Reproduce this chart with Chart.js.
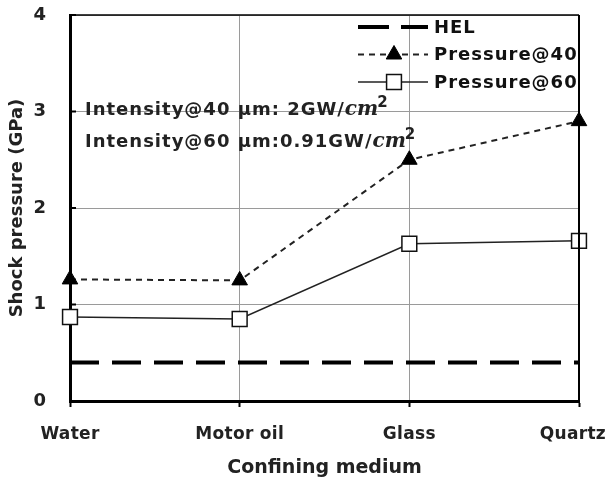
<!DOCTYPE html>
<html>
<head>
<meta charset="utf-8">
<script src="https://cdn.jsdelivr.net/npm/chart.js@4/dist/chart.umd.min.js"></script>
<style>
  html, body { margin: 0; padding: 0; background: #fff; }
  #wrap { width: 606px; height: 481px; }
</style>
</head>
<body>
<div id="wrap"><canvas id="chart" width="606" height="481"></canvas></div>
<script>
// data
const media = ["Water", "Motor oil", "Glass", "Quartz"];
const helValues = [0.4, 0.4, 0.4, 0.4];
const pressure40 = [1.26, 1.25, 2.5, 2.9];
const pressure60 = [0.87, 0.85, 1.63, 1.66];
const yTicks = [0, 1, 2, 3, 4];
const noteLines = [
  ["Intensity@40 \u00b5m: 2GW/", "cm", "2"],
  ["Intensity@60 \u00b5m:0.91GW/", "cm", "2"]
];

const FONT = "'DejaVu Sans', sans-serif";
const canvas = document.getElementById("chart");

// frame, y ticks, x labels, legend and the intensity note
const extras = {
  id: "extras",
  afterDraw(chart) {
    const ctx = chart.ctx;
    const a = chart.chartArea;
    const x = chart.scales.x;
    const y = chart.scales.y;
    ctx.save();

    // top + right border of the plot box
    ctx.strokeStyle = "#000";
    ctx.lineWidth = 1.5;
    ctx.beginPath();
    ctx.moveTo(a.left, a.top);
    ctx.lineTo(a.right, a.top);
    ctx.stroke();
    ctx.lineWidth = 2;
    ctx.beginPath();
    ctx.moveTo(a.right, a.top);
    ctx.lineTo(a.right, a.bottom);
    ctx.stroke();

    // small inward ticks on the y axis
    ctx.lineWidth = 2;
    yTicks.forEach(v => {
      const py = y.getPixelForValue(v);
      ctx.beginPath();
      ctx.moveTo(a.left, py);
      ctx.lineTo(a.left + 6, py);
      ctx.stroke();
    });

    // category labels, kept inside the canvas
    ctx.fillStyle = "#222";
    ctx.font = "bold 17px " + FONT;
    ctx.letterSpacing = "0.3px";
    ctx.textAlign = "left";
    ctx.textBaseline = "middle";
    media.forEach((m, i) => {
      const w = ctx.measureText(m).width;
      let lx = x.getPixelForValue(i) - w / 2;
      lx = Math.min(lx, chart.width - w);
      ctx.fillText(m, lx, a.bottom + 34);
    });

    // legend (drawn from dataset styles)
    const lx = a.right - 221, lw = 70, tx = a.right - 145;
    chart.data.datasets.forEach((ds, i) => {
      const ly = a.top + 12 + i * 27.5;
      ctx.strokeStyle = ds.borderColor;
      ctx.lineWidth = ds.borderWidth;
      ctx.setLineDash(ds.legendDash || ds.borderDash || []);
      ctx.beginPath();
      ctx.moveTo(lx, ly);
      ctx.lineTo(lx + lw, ly);
      ctx.stroke();
      ctx.setLineDash([]);
      if (ds.pointRadius > 0) {
        ctx.fillStyle = ds.pointBackgroundColor;
        ctx.strokeStyle = ds.pointBorderColor;
        ctx.lineWidth = ds.pointBorderWidth;
        Chart.helpers.drawPoint(ctx, {
          pointStyle: ds.pointStyle,
          radius: ds.pointRadius,
          borderWidth: ds.pointBorderWidth
        }, lx + lw / 2 + 1, ly);
      }
      ctx.fillStyle = "#111";
      ctx.font = "bold 18px " + FONT;
      ctx.letterSpacing = "1px";
      ctx.textAlign = "left";
      ctx.textBaseline = "middle";
      ctx.fillText(ds.label, tx, ly + 1);
    });

    // intensity note
    ctx.fillStyle = "#222";
    ctx.textBaseline = "alphabetic";
    noteLines.forEach((parts, i) => {
      let nx = a.left + 15;
      const by = a.top + 100 + i * 32;
      ctx.font = "bold 18px " + FONT;
      ctx.letterSpacing = "1px";
      ctx.fillText(parts[0], nx, by);
      nx += ctx.measureText(parts[0]).width;
      ctx.font = "italic bold 20px 'DejaVu Serif', serif";
      ctx.letterSpacing = "0px";
      ctx.fillText(parts[1], nx, by);
      nx += ctx.measureText(parts[1]).width;
      ctx.font = "bold 15px " + FONT;
      ctx.fillText(parts[2], nx - 1, by - 8);
    });
    ctx.restore();
  }
};

new Chart(canvas, {
  type: "line",
  plugins: [extras],
  data: {
    labels: media,
    datasets: [
      {
        label: "HEL",
        data: helValues,
        borderColor: "#000",
        borderWidth: 4,
        borderDash: [29, 13],
        legendDash: [31, 12],
        pointRadius: 0,
        clip: false
      },
      {
        label: "Pressure@40",
        data: pressure40,
        borderColor: "#222",
        borderWidth: 2,
        borderDash: [6, 5],
        pointStyle: "triangle",
        pointRadius: 9,
        pointBackgroundColor: "#000",
        pointBorderColor: "#000",
        pointBorderWidth: 1,
        clip: false
      },
      {
        label: "Pressure@60",
        data: pressure60,
        borderColor: "#222",
        borderWidth: 1.5,
        pointStyle: "rect",
        pointRadius: 10.5,
        pointBackgroundColor: "#fff",
        pointBorderColor: "#111",
        pointBorderWidth: 1.5,
        clip: false
      }
    ]
  },
  options: {
    responsive: false,
    animation: false,
    layout: { padding: { top: 15, right: 27, left: 0, bottom: 0 } },
    plugins: {
      legend: { display: false },
      tooltip: { enabled: false }
    },
    scales: {
      x: {
        offset: false,
        grid: {
          color: "#9a9a9a",
          lineWidth: 1,
          drawTicks: true,
          tickLength: 6,
          tickColor: "#000",
          tickWidth: 2
        },
        border: { color: "#000", width: 3 },
        ticks: { display: false, autoSkip: false, maxRotation: 0 },
        title: {
          display: true,
          text: "Confining medium",
          color: "#222",
          font: { family: FONT, size: 19, weight: "bold" },
          padding: { top: 0, bottom: 2 }
        },
        afterFit: s => {
          s.height = 80;
          s.paddingLeft = 0;
          s.paddingRight = 0;
        }
      },
      y: {
        min: 0,
        max: 4,
        afterBuildTicks: s => { s.ticks = yTicks.map(v => ({ value: v })); },
        grid: {
          color: "#9a9a9a",
          lineWidth: 1,
          drawTicks: false
        },
        border: { color: "#000", width: 3 },
        ticks: {
          color: "#222",
          font: { family: FONT, size: 18, weight: "bold" },
          padding: 24
        },
        title: {
          display: true,
          text: "Shock pressure (GPa)",
          color: "#222",
          font: { family: FONT, size: 18, weight: "bold" },
          padding: { top: 7, bottom: 0 }
        },
        afterFit: s => {
          s.width = 70;
          s.paddingTop = 0;
          s.paddingBottom = 0;
        }
      }
    }
  }
});
</script>
</body>
</html>
